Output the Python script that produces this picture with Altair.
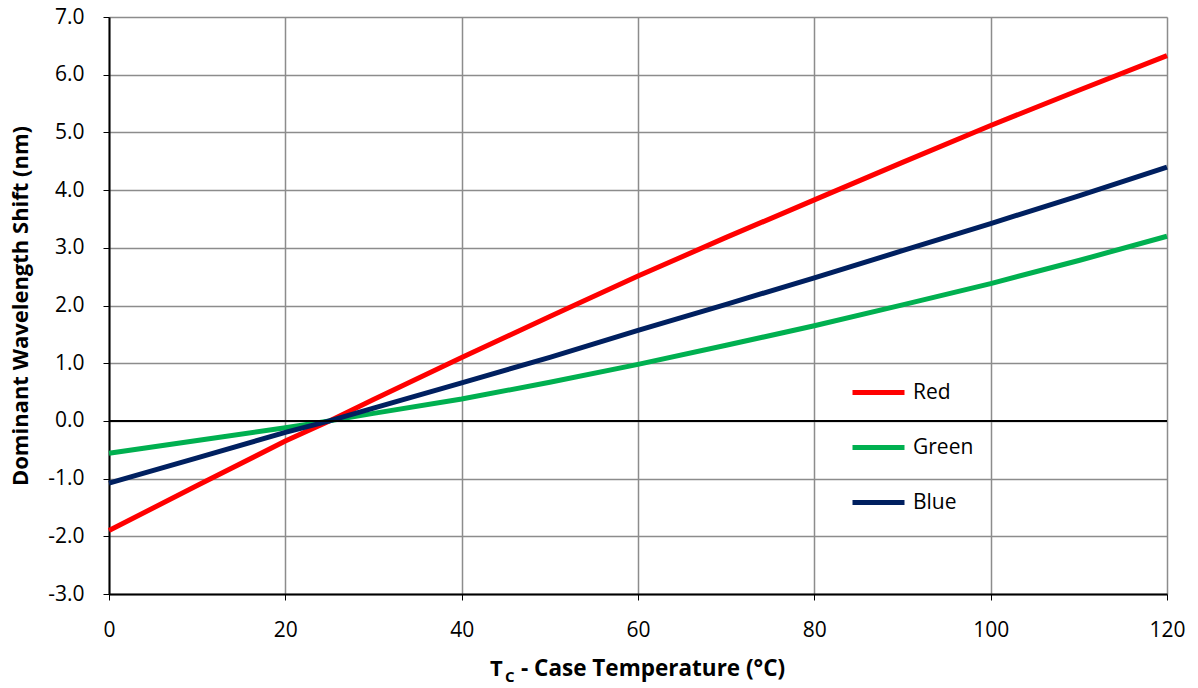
import altair as alt
import pandas as pd

temps = [0, 10, 20, 25, 30, 40, 50, 60, 70, 80, 90, 100, 110, 120]
red = [-1.90, -1.12, -0.35, 0.0, 0.37, 1.10, 1.81, 2.51, 3.18, 3.83, 4.48, 5.12, 5.73, 6.33]
green = [-0.56, -0.34, -0.12, 0.0, 0.13, 0.38, 0.67, 0.98, 1.31, 1.65, 2.01, 2.38, 2.78, 3.20]
blue = [-1.08, -0.64, -0.20, 0.0, 0.22, 0.66, 1.10, 1.57, 2.02, 2.48, 2.95, 3.42, 3.90, 4.40]
series = ["Red", "Green", "Blue"]
colors = ["#FF0000", "#00B050", "#002060"]
x_ticks = [0, 20, 40, 60, 80, 100, 120]
y_ticks = [-3, -2, -1, 0, 1, 2, 3, 4, 5, 6, 7]

rows = []
for name, vals in zip(series, [red, green, blue]):
    for t, v in zip(temps, vals):
        rows.append({"T": t, "shift": v, "series": name, "ord": series.index(name)})
df = pd.DataFrame(rows)

FONT = "Open Sans"
W, H = 1058, 577

base = alt.Chart(df)

lines = base.mark_line(strokeWidth=5, strokeCap="butt").encode(
    x=alt.X("T:Q", scale=alt.Scale(domain=[0, 120], nice=False),
            axis=alt.Axis(values=x_ticks, title=None, labelFontSize=21, labelFont=FONT,
                          labelPadding=19, labelFlush=False, tickSize=6, tickColor="black",
                          domainColor="black", domainWidth=2, gridColor="#8c8c8c",
                          gridWidth=1.5, labelColor="black")),
    y=alt.Y("shift:Q", scale=alt.Scale(domain=[-3, 7], nice=False),
            axis=alt.Axis(values=y_ticks,
                          labelExpr="datum.value < 0 ? '-' + format(-datum.value, '.1f') : format(datum.value, '.1f')",
                          title="Dominant Wavelength Shift (nm)",
                          titleFont=FONT, titleFontSize=22, titleFontWeight="bold", titleColor="black",
                          titleX=-89, titleY=H / 2, titleAngle=-90, titleAlign="center",
                          titleBaseline="middle",
                          labelFontSize=21, labelFont=FONT, labelPadding=19, labelFlush=False,
                          tickSize=6, tickColor="black", domainColor="black", domainWidth=2,
                          gridColor="#8c8c8c", gridWidth=1.5, labelColor="black")),
    color=alt.Color("series:N", scale=alt.Scale(domain=series, range=colors),
                    legend=alt.Legend(title=None, orient="none", legendX=741, legendY=347,
                                      symbolType="stroke", symbolSize=2704, symbolStrokeWidth=5,
                                      labelFontSize=21, labelFont=FONT, labelColor="black",
                                      rowPadding=16, labelOffset=6)),
    order="ord:Q",
    detail="series:N",
)

zero = alt.Chart(pd.DataFrame({"y": [0]})).mark_rule(color="black", strokeWidth=2).encode(y="y:Q")

xt_T = alt.Chart(pd.DataFrame({"t": ["T"]})).mark_text(
    align="left", baseline="alphabetic", font=FONT, fontSize=22, fontWeight="bold", color="black"
).encode(x=alt.value(381), y=alt.value(659), text="t:N")
xt_C = alt.Chart(pd.DataFrame({"t": ["C"]})).mark_text(
    align="left", baseline="alphabetic", font=FONT, fontSize=15, fontWeight="bold", color="black"
).encode(x=alt.value(396), y=alt.value(665), text="t:N")
xt_rest = alt.Chart(pd.DataFrame({"t": ["- Case Temperature (°C)"]})).mark_text(
    align="left", baseline="alphabetic", font=FONT, fontSize=22.5, fontWeight="bold", color="black"
).encode(x=alt.value(412), y=alt.value(659), text="t:N")

chart = alt.layer(lines, zero, xt_T, xt_C, xt_rest).properties(
    width=W, height=H, autosize=alt.AutoSizeParams(type="none"),
    padding={"left": 109, "top": 17, "right": 31, "bottom": 94},
).configure_view(stroke="black", strokeWidth=2).configure(background="white")

chart.save("out.html", embed_options={"renderer": "svg", "actions": False})
